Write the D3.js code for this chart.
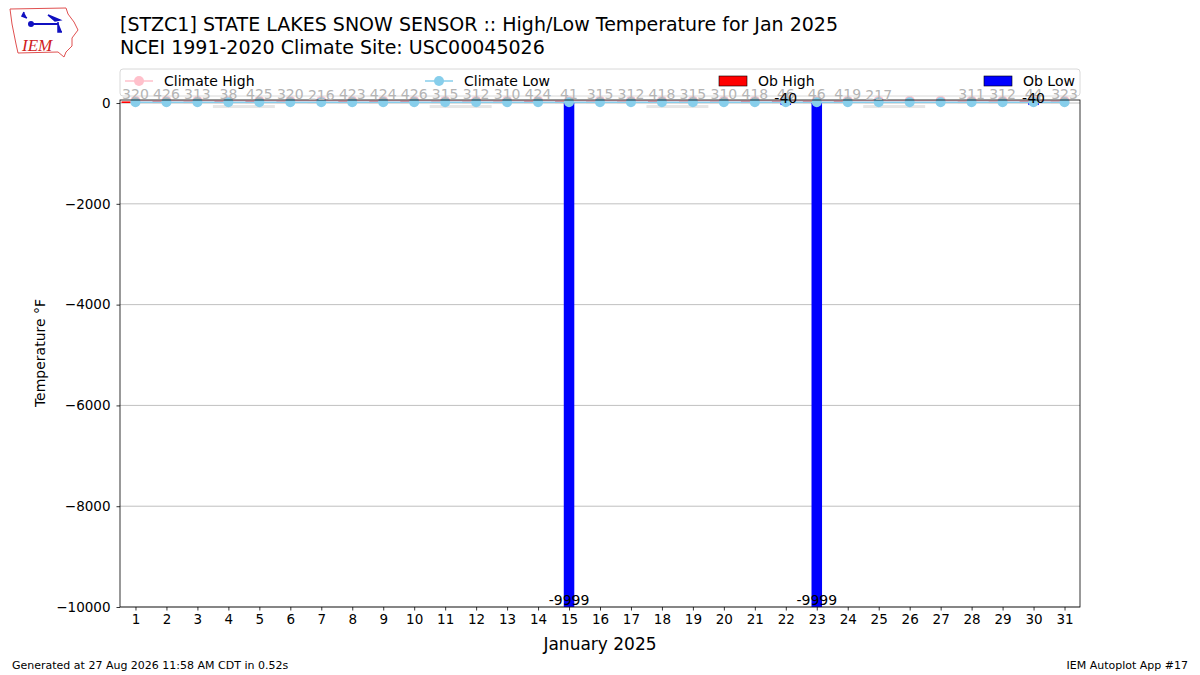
<!DOCTYPE html>
<html>
<head>
<meta charset="utf-8">
<script src="https://cdn.jsdelivr.net/npm/d3@7"></script>
<style>
  body { margin: 0; background: #fff; }
  svg { font-family: "DejaVu Sans", sans-serif; }
</style>
</head>
<body>
<svg id="chart" width="1200" height="675"></svg>
<script>
/* data */
var days = d3.range(1, 32);
var climateHigh = [45, 45, 45, 45, 45, 45, 45, 46, 46, 46, 46, 46, 46, 46, 46, 46, 46, 46, 46, 46, 46, 46, 46, 46, 46, 46, 47, 47, 47, 47, 47];
var climateLow = [15, 15, 15, 15, 15, 15, 15, 15, 15, 15, 15, 15, 15, 15, 15, 15, 15, 15, 15, 15, 15, 15, 15, 15, 15, 15, 15, 15, 15, 15, 15];
var obHigh = [32, 42, 31, 38, 42, 32, 21, 42, 42, 42, 31, 31, 31, 42, 41, 31, 31, 41, 31, 31, 41, 46, 46, 41, 21, null, null, 31, 31, 44, 32];
var highText = ["320", "426", "313", "38", "425", "320", "216", "423", "424", "426", "315", "312", "310", "424", "41", "315", "312", "418", "315", "310", "418", "46", "46", "419", "217", "", "", "311", "312", "44", "323"];
var obLow = [null, null, null, null, null, null, null, null, null, null, null, null, null, null, -9999, null, null, null, null, null, null, -40, -9999, null, null, null, null, null, null, -40, null];
var weekends = [[4, 5], [11, 12], [18, 19], [25, 26]];
var yTicks = [-10000, -8000, -6000, -4000, -2000, 0];

var svg = d3.select("#chart");

var x = d3.scaleLinear().domain([0.5, 31.5]).range([120, 1080]);
var y = d3.scaleLinear().domain([-10000, 60]).range([607, 100]);

/* titles */
svg.append("text").attr("x", 120).attr("y", 31).attr("font-size", 19)
  .text("[STZC1] STATE LAKES SNOW SENSOR :: High/Low Temperature for Jan 2025");
svg.append("text").attr("x", 120).attr("y", 54).attr("font-size", 19)
  .text("NCEI 1991-2020 Climate Site: USC00045026");

/* logo, rough */
var logo = svg.append("g");
logo.append("path")
  .attr("d", "M10,9 L66,8 L68,14 L74,22 L78,30 L72,38 L72,46 L66,52 L64,57 L58,52 L18,53 L16,44 L14,34 L12,24 Z")
  .attr("fill", "none").attr("stroke", "#e05050").attr("stroke-width", 1);
logo.append("text").attr("x", 22).attr("y", 51).attr("font-size", 17)
  .attr("font-family", "Liberation Serif").attr("font-style", "italic")
  .attr("fill", "#d02020").text("IEM");
logo.append("path").attr("d", "M31,24 L58,24").attr("stroke", "#1010c0").attr("stroke-width", 2);
logo.append("circle").attr("cx", 31).attr("cy", 24).attr("r", 3).attr("fill", "#1010c0");
logo.append("path").attr("d", "M24,12 L22,16 L27,18 M48,15 L60,20 L55,21 Z M58,22 L58,32 L62,32")
  .attr("fill", "#1010c0").attr("stroke", "#1010c0").attr("stroke-width", 1.5);

/* grid */
svg.append("g").selectAll("line").data(yTicks).join("line")
  .attr("x1", 120).attr("x2", 1080)
  .attr("y1", function(d) { return y(d); }).attr("y2", function(d) { return y(d); })
  .attr("stroke", "#b0b0b0").attr("stroke-width", 0.8);

/* weekend bands */
svg.append("g").selectAll("rect").data(weekends).join("rect")
  .attr("x", function(d) { return x(d[0] - 0.5); })
  .attr("width", function(d) { return x(d[1] + 0.5) - x(d[0] - 0.5); })
  .attr("y", y(-40)).attr("height", y(-100) - y(-40))
  .attr("fill", "#e6e6e6");

/* bars */
var highs = days.map(function(d, i) { return {day: d, v: obHigh[i], t: highText[i]}; });
var lows = days.map(function(d, i) { return {day: d, v: obLow[i]}; });

svg.append("g").selectAll("rect").data(highs.filter(function(d) { return d.v != null; })).join("rect")
  .attr("x", function(d) { return x(d.day - 0.45); })
  .attr("width", x(0.35) - x(0))
  .attr("y", function(d) { return y(d.v); })
  .attr("height", function(d) { return y(0) - y(d.v); })
  .attr("fill", "#ff0000");

svg.append("g").selectAll("rect").data(lows.filter(function(d) { return d.v != null; })).join("rect")
  .attr("x", function(d) { return x(d.day - 0.17); })
  .attr("width", x(0.34) - x(0))
  .attr("y", y(0))
  .attr("height", function(d) { return y(d.v) - y(0); })
  .attr("fill", "#0000ff");

/* climate lines */
var line = d3.line().x(function(d) { return x(d[0]); }).y(function(d) { return y(d[1]); });
var hiPts = days.map(function(d, i) { return [d, climateHigh[i]]; });
var loPts = days.map(function(d, i) { return [d, climateLow[i]]; });

svg.append("path").attr("d", line(hiPts)).attr("fill", "none").attr("stroke", "#ffc0cb").attr("stroke-width", 1.5);
svg.append("g").selectAll("circle").data(hiPts).join("circle")
  .attr("cx", function(d) { return x(d[0]); }).attr("cy", function(d) { return y(d[1]); })
  .attr("r", 5).attr("fill", "#ffc0cb");
svg.append("path").attr("d", line(loPts)).attr("fill", "none").attr("stroke", "#87ceeb").attr("stroke-width", 1.5);
svg.append("g").selectAll("circle").data(loPts).join("circle")
  .attr("cx", function(d) { return x(d[0]); }).attr("cy", function(d) { return y(d[1]); })
  .attr("r", 5).attr("fill", "#87ceeb");

/* axes */
var yAxis = svg.append("g").attr("transform", "translate(120,0)")
  .call(d3.axisLeft(y).tickValues(yTicks).tickSize(3.5).tickPadding(6).tickFormat(d3.format("d")));
var xAxis = svg.append("g").attr("transform", "translate(0,607)")
  .call(d3.axisBottom(x).tickValues(days).tickSize(3.5).tickPadding(4).tickFormat(d3.format("d")));
[yAxis, xAxis].forEach(function(a) {
  a.select(".domain").remove();
  a.selectAll("text").attr("font-size", 13.5).attr("fill", "#000").attr("font-family", "DejaVu Sans");
  a.selectAll("line").attr("stroke", "#000").attr("stroke-width", 0.8);
});
svg.append("rect").attr("x", 120).attr("y", 100).attr("width", 960).attr("height", 507)
  .attr("fill", "none").attr("stroke", "#000").attr("stroke-width", 0.8);

/* legend */
var lg = svg.append("g");
lg.append("rect").attr("x", 120).attr("y", 69).attr("width", 960).attr("height", 27).attr("rx", 3)
  .attr("fill", "#fff").attr("fill-opacity", 0.8).attr("stroke", "#d8d8d8");
var legendItems = [
  {name: "Climate High", kind: "line", color: "#ffc0cb", x: 125},
  {name: "Climate Low", kind: "line", color: "#87ceeb", x: 425},
  {name: "Ob High", kind: "rect", color: "#ff0000", x: 719},
  {name: "Ob Low", kind: "rect", color: "#0000ff", x: 984}
];
legendItems.forEach(function(it) {
  if (it.kind === "line") {
    lg.append("line").attr("x1", it.x).attr("x2", it.x + 28).attr("y1", 81).attr("y2", 81)
      .attr("stroke", it.color).attr("stroke-width", 1.5);
    lg.append("circle").attr("cx", it.x + 14).attr("cy", 81).attr("r", 5).attr("fill", it.color);
  } else {
    lg.append("rect").attr("x", it.x).attr("y", 76).attr("width", 28).attr("height", 10)
      .attr("fill", it.color).attr("stroke", "#000").attr("stroke-width", 0.6);
  }
  lg.append("text").attr("x", it.x + 39).attr("y", 86).attr("font-size", 14).text(it.name);
});

/* value labels */
svg.append("g").selectAll("text").data(highs.filter(function(d) { return d.t; })).join("text")
  .attr("x", function(d) { return x(d.day); })
  .attr("y", function(d) { return y(d.v) - 2; })
  .attr("text-anchor", "middle").attr("font-size", 14).attr("fill", "#b4b4b4")
  .text(function(d) { return d.t; });
svg.append("g").selectAll("text").data(lows.filter(function(d) { return d.v != null; })).join("text")
  .attr("x", function(d) { return x(d.day); })
  .attr("y", function(d) { return y(d.v) - 2; })
  .attr("text-anchor", "middle").attr("font-size", 14).attr("fill", "#000")
  .text(function(d) { return d.v; });

/* axis titles and footer */
svg.append("text").attr("transform", "translate(45,353) rotate(-90)").attr("text-anchor", "middle")
  .attr("font-size", 14).text("Temperature °F");
svg.append("text").attr("x", 600).attr("y", 650).attr("text-anchor", "middle")
  .attr("font-size", 17).text("January 2025");
svg.append("text").attr("x", 12).attr("y", 669).attr("font-size", 11)
  .text("Generated at 27 Aug 2026 11:58 AM CDT in 0.52s");
svg.append("text").attr("x", 1188).attr("y", 669).attr("text-anchor", "end").attr("font-size", 11)
  .text("IEM Autoplot App #17");
</script>
</body>
</html>
